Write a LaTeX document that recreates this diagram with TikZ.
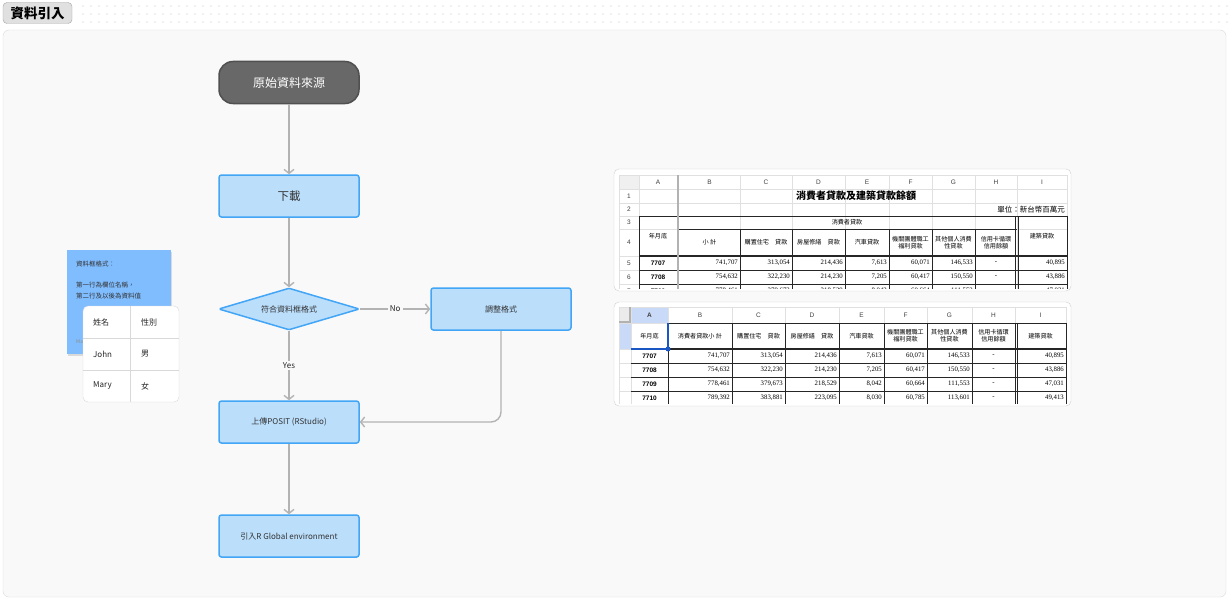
\documentclass[tikz,border=0pt]{standalone}
\usepackage{fontspec}
\setmainfont{Noto Sans CJK TC}
\newfontfamily\sheetnum{Liberation Serif}
\newfontfamily\sheetsans{Liberation Sans}
\usetikzlibrary{positioning,arrows.meta,shapes.geometric}
\definecolor{canvas}{HTML}{F9F9F9}
\definecolor{framegray}{HTML}{DCDCDC}
\definecolor{dotgray}{HTML}{E3E3E3}
\definecolor{boxfill}{HTML}{BBDEFB}
\definecolor{boxline}{HTML}{42A5F5}
\definecolor{srcfill}{HTML}{686868}
\definecolor{srcline}{HTML}{505050}
\definecolor{arrowgray}{HTML}{B3B3B3}
\definecolor{notefill}{HTML}{80BDFF}
\definecolor{gridgray}{HTML}{E0E0E0}
\definecolor{headblue}{HTML}{C9DAF8}
\definecolor{selblue}{HTML}{1A57C4}
\newcommand{\fsz}[1]{\fontsize{#1}{#1}\selectfont}
\tikzset{flow/.style = {rectangle, draw=boxline, fill=boxfill, line width=1.5pt, rounded corners=2.5pt,
                        minimum width=140, minimum height=42, inner sep=0, text=black!80, font=\fsz{8}},
         source/.style = {flow, draw=srcline, fill=srcfill, rounded corners=14pt, text=white, font=\fsz{12}},
         check/.style = {diamond, draw=boxline, fill=boxfill, line width=1.5pt, aspect=3.3, rounded corners=1.5pt,
                         minimum width=141, minimum height=42, inner sep=0, text=black!80, font=\fsz{8}},
         flowarrow/.style = {draw=arrowgray, line width=1.4pt, -{Straight Barb[length=4pt,width=10pt]}},
         edgelabel/.style = {fill=canvas, inner sep=2pt, text=black!85, font=\fsz{8}},
         notetext/.style = {anchor=west, inner sep=0, text=black!80, font=\fsz{6.5}},
         celltext/.style = {anchor=west, inner sep=0, text=black!85, font=\fsz{8}},
         colhead/.style = {inner sep=0, text=black!75, font=\sheetsans\fsz{6.5}},
         rowhead/.style = {inner sep=0, text=black!75, font=\sheetsans\fsz{6.5}},
         headcell/.style = {inner sep=0, align=center, text=black, font=\fsz{6.1}\linespread{1.1}\selectfont},
         idcell/.style = {inner sep=0, text=black, font=\sheetsans\bfseries\fsz{6.5}},
         numcell/.style = {anchor=east, inner sep=0, text=black, font=\sheetnum\fsz{6.8}},
         sheetline/.style = {draw=gridgray, line width=0.6pt},
         blackline/.style = {draw=black!85, line width=0.6pt}}
\begin{document}
\begin{tikzpicture}[x=1pt, y=-1pt]
\fill[white] (0,0) rectangle (1229,602);
\useasboundingbox (0,0) rectangle (1229,602);
\foreach \xx in {83,91,...,1227}
  \foreach \yy in {6,14,22}
    \fill[dotgray] (\xx,\yy) circle (0.9pt);

\node[draw=black!35, fill=black!12, rounded corners=4pt, minimum width=69, minimum height=21,
      inner sep=0, font=\bfseries\fsz{13.5}] (title) at (37.5,13) {資料引入};
\draw[draw=framegray, fill=canvas, rounded corners=6pt] (3,30) rectangle (1226,597);

% flow
\node [source] (src) at (289,82.5) {原始資料來源};
\node [flow, font=\fsz{11.5}] (dl) at (289,196) {下載};
\node [check] (chk) at (289,309) {符合資料框格式};
\node [flow] (fix) at (501,309) {調整格式};
\node [flow] (up)  at (289,422) {上傳POSIT (RStudio)};
\node [flow] (env) at (289,536) {引入R Global environment};

\draw[flowarrow] (src) -- (dl);
\draw[flowarrow] (dl) -- (chk);
\draw[flowarrow] (chk) -- node[edgelabel] (no) {No} (fix);
\draw[flowarrow] (chk) -- node[edgelabel] (yes) {Yes} (up);
\draw[flowarrow, rounded corners=10pt] (fix.south) |- (up.east);
\draw[flowarrow] (up) -- (env);

% note
\fill[black, opacity=0.12] (68,252) rectangle (172,356);
\fill[notefill] (67,250) rectangle (171,354);
\node[notetext] (memo1) at (76,264) {資料框格式：};
\node[notetext] (memo2) at (76,285) {第一行為欄位名稱，};
\node[notetext] (memo3) at (76,296) {第二行及以後為資料值};
\node[notetext, text=black!45, font=\fsz{5}] (memo4) at (76,342) {Ma};

\draw[draw=black!15, fill=white, rounded corners=5pt] (83,306) rectangle (179,402);
\draw[draw=black!15] (130,306) -- (130,402) (83,338) -- (179,338) (83,370) -- (179,370);
\node[celltext] (c11) at (93,322) {姓名};
\node[celltext] (c12) at (141,322) {性別};
\node[celltext] (c21) at (93,354) {John};
\node[celltext] (c22) at (141,354) {男};
\node[celltext] (c31) at (93,386) {Mary};
\node[celltext] (c32) at (141,386) {女};

% sheet 1
\draw[draw=black!18, fill=white, rounded corners=5pt] (614,169) rectangle (1071,291);
\begin{scope}
\clip (616,171) rectangle (1069,288);
\fill[black!6] (619,175) rectangle (639,189);
\foreach \xx in {619,639,740,792,845,889,932,975,1017,1067}
  \draw[sheetline] (\xx,175) -- (\xx,298);
\foreach \yy in {175,189,203,216,229,256,270,284}
  \draw[sheetline] (619,\yy) -- (1067,\yy);
\draw[blackline] (639,216) -- (1067,216) (679,229) -- (1017,229) (639,270) -- (1067,270) (639,284) -- (1067,284);
\draw[blackline, line width=1.5pt] (639,256) -- (1067,256);
\draw[blackline] (639,216) -- (639,298) (1067,216) -- (1067,298) (1015.5,216) -- (1015.5,298) (1018,216) -- (1018,298);
\foreach \xx in {740,792,845,889,932,975}
  \draw[blackline] (\xx,229) -- (\xx,298);
\draw[draw=black!30, line width=2.2pt] (678,175) -- (678,298);
\foreach \c/\xx in {A/658,B/709.5,C/766,D/818.5,E/867,F/910.5,G/953.5,H/996,I/1042}
  \node[colhead] (s1h\c) at (\xx,182) {\c};
\foreach \r/\yy in {1/196,2/209.5,3/222.5,4/242.5,5/263,6/277,7/291}
  \node[rowhead] (s1r\r) at (629,\yy) {\r};
\node[font=\bfseries\fsz{10}, inner sep=0] (s1title) at (856,196) {消費者貸款及建築貸款餘額};
\node[font=\fsz{7.5}, anchor=east, inner sep=0] (s1unit) at (1065,209.5) {單位：新台幣百萬元};
\node[headcell] (s1ym) at (658,236) {年月底};
\node[headcell] (s1cons) at (847,222.5) {消費者貸款};
\node[headcell] (s1build) at (1042,236) {建築貸款};
\foreach \c/\xx/\txt in {b/709.5/小 計,c/766/購置住宅　貸款,d/818.5/房屋修繕　貸款,e/867/汽車貸款,
                         f/910.5/機關團體職工\\福利貸款,g/953.5/其他個人消費\\性貸款,h/996/信用卡循環\\信用餘額}
  \node[headcell] (s1\c) at (\xx,242.5) {\txt};
\foreach \r/\yy/\va/\vb/\vc/\vd/\ve/\vf/\vg/\vi in
  {5/263/7707/{741,707}/{313,054}/{214,436}/{7,613}/{60,071}/{146,533}/{40,895},
   6/277/7708/{754,632}/{322,230}/{214,230}/{7,205}/{60,417}/{150,550}/{43,886},
   7/291/7709/{778,461}/{379,673}/{218,529}/{8,042}/{60,664}/{111,553}/{47,031}}{
  \node[idcell] (s1a\r) at (658,\yy) {\va};
  \node[numcell] (s1b\r) at (738,\yy) {\vb};
  \node[numcell] (s1c\r) at (790,\yy) {\vc};
  \node[numcell] (s1d\r) at (843,\yy) {\vd};
  \node[numcell] (s1e\r) at (887,\yy) {\ve};
  \node[numcell] (s1f\r) at (930,\yy) {\vf};
  \node[numcell] (s1g\r) at (973,\yy) {\vg};
  \node[numcell, anchor=center] (s1h\r) at (996,\yy) {-};
  \node[numcell] (s1i\r) at (1065,\yy) {\vi};
}
\end{scope}

% sheet 2
\draw[draw=black!18, fill=white, rounded corners=5pt] (614,302) rectangle (1071,406);
\begin{scope}
\clip (616,304) rectangle (1069,403);
\fill[black!8] (619,307) rectangle (631,323);
\fill[headblue] (631,307) rectangle (668,323);
\fill[headblue] (619,323) rectangle (631,349);
\foreach \xx in {619,631,668,732,785,839,884,927,972,1015,1066}
  \draw[sheetline] (\xx,307) -- (\xx,410);
\foreach \yy in {307,323,349,363,377,391}
  \draw[sheetline] (619,\yy) -- (1066,\yy);
\draw[draw=black!30, line width=2pt] (630,307) -- (630,323) (619,322) -- (631,322);
\foreach \xx in {732,785,839,884,927,972,1015,1066}
  \draw[blackline] (\xx,323) -- (\xx,410);
\draw[blackline] (668,349) -- (668,410) (1017.5,323) -- (1017.5,410);
\foreach \yy in {323,363,377,391}
  \draw[blackline] (668,\yy) -- (1066,\yy);
\draw[blackline] (631,363) -- (668,363) (631,377) -- (668,377) (631,391) -- (668,391);
\draw[blackline, line width=1.2pt] (668,349) -- (1066,349);
\draw[draw=selblue, line width=1.3pt] (631,349) -- (668,349) -- (668,323);
\fill[selblue] (668,349) circle (2.5pt);
\node[colhead, font=\sheetsans\bfseries\fsz{6.5}] (s2hA) at (649.5,315) {A};
\foreach \c/\xx in {B/700,C/758.5,D/812,E/861.5,F/905.5,G/949.5,H/993.5,I/1040.5}
  \node[colhead] (s2h\c) at (\xx,315) {\c};
\foreach \c/\xx/\txt in {a/649.5/年月底,b/700/消費者貸款小 計,c/758.5/購置住宅　貸款,d/812/房屋修繕　貸款,
                         e/861.5/汽車貸款,f/905.5/機關團體職工\\福利貸款,g/949.5/其他個人消費\\性貸款,
                         h/993.5/信用卡循環\\信用餘額,i/1040.5/建築貸款}
  \node[headcell] (s2\c) at (\xx,336) {\txt};
\foreach \r/\yy/\va/\vb/\vc/\vd/\ve/\vf/\vg/\vi in
  {1/356/7707/{741,707}/{313,054}/{214,436}/{7,613}/{60,071}/{146,533}/{40,895},
   2/370/7708/{754,632}/{322,230}/{214,230}/{7,205}/{60,417}/{150,550}/{43,886},
   3/384/7709/{778,461}/{379,673}/{218,529}/{8,042}/{60,664}/{111,553}/{47,031},
   4/398/7710/{789,392}/{383,881}/{223,095}/{8,030}/{60,785}/{113,601}/{49,413}}{
  \node[idcell] (s2a\r) at (649.5,\yy) {\va};
  \node[numcell] (s2b\r) at (730,\yy) {\vb};
  \node[numcell] (s2c\r) at (783,\yy) {\vc};
  \node[numcell] (s2d\r) at (837,\yy) {\vd};
  \node[numcell] (s2e\r) at (882,\yy) {\ve};
  \node[numcell] (s2f\r) at (925,\yy) {\vf};
  \node[numcell] (s2g\r) at (970,\yy) {\vg};
  \node[numcell, anchor=center] (s2h\r) at (993.5,\yy) {-};
  \node[numcell] (s2i\r) at (1064,\yy) {\vi};
}
\end{scope}
\end{tikzpicture}
\end{document}
